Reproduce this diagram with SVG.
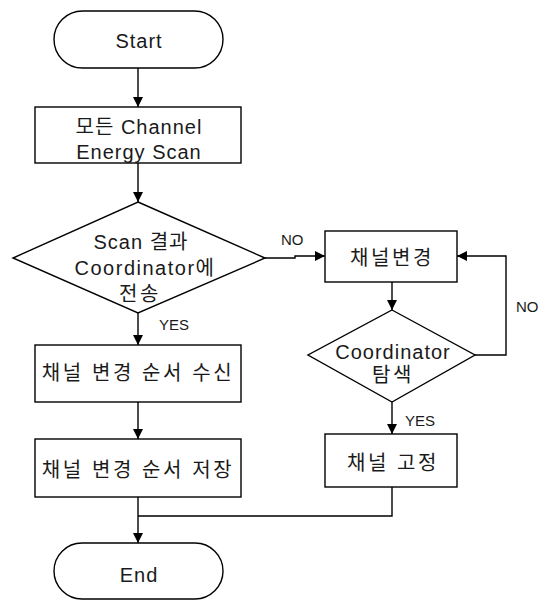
<svg xmlns="http://www.w3.org/2000/svg" width="545" height="601" viewBox="0 0 545 601">
<defs>
<style>
.s{fill:#fff;stroke:#000;stroke-width:1.4}
.c{fill:none;stroke:#000;stroke-width:1.4}
text{font-family:"Liberation Sans","Noto Sans CJK KR",sans-serif;font-size:20px;fill:#1a1a1a;text-anchor:middle;dominant-baseline:central;letter-spacing:1px}
.k{letter-spacing:2.6px}
.l{font-size:15px;text-anchor:start;letter-spacing:0}
</style>
<marker id="a" viewBox="0 0 10 10" refX="10" refY="5" markerWidth="10" markerHeight="10" markerUnits="userSpaceOnUse" orient="auto">
<path d="M0,0 L10,5 L0,10 Z" fill="#000"/>
</marker>
</defs>
<rect width="545" height="601" fill="#fff"/>
<g id="connectors">
<line class="c" x1="138" y1="68" x2="138" y2="107" marker-end="url(#a)"/>
<line class="c" x1="138" y1="163" x2="138" y2="202" marker-end="url(#a)"/>
<line class="c" x1="138" y1="313" x2="138" y2="345" marker-end="url(#a)"/>
<line class="c" x1="138" y1="402" x2="138" y2="439" marker-end="url(#a)"/>
<line class="c" x1="138" y1="497" x2="138" y2="543" marker-end="url(#a)"/>
<polyline class="c" points="265,258 295,258 295,256 325,256" marker-end="url(#a)"/>
<line class="c" x1="392" y1="282" x2="392" y2="310" marker-end="url(#a)"/>
<polyline class="c" points="475,355 506,355 506,256 457,256" marker-end="url(#a)"/>
<line class="c" x1="392" y1="402" x2="392" y2="434" marker-end="url(#a)"/>
<polyline class="c" points="392,487 392,516 138,516"/>
<text class="l" x="159" y="324">YES</text>
<text class="l" x="281" y="239">NO</text>
<text class="l" x="516" y="306">NO</text>
<text class="l" x="405" y="420">YES</text>
</g>
<g id="start">
<rect class="s" x="54" y="11" width="169" height="57" rx="28.5"/>
<text x="139" y="41">Start</text>
</g>
<g id="scan">
<rect class="s" x="35" y="107" width="206" height="56"/>
<text x="139" y="127">모든 Channel</text>
<text x="139" y="152">Energy Scan</text>
</g>
<g id="send">
<polygon class="s" points="138,202 265,258 138,313 13,258"/>
<text x="141" y="242">Scan 결과</text>
<text x="145" y="268" style="letter-spacing:1.5px">Coordinator에</text>
<text class="k" x="140" y="294">전송</text>
</g>
<g id="recv">
<rect class="s" x="35" y="345" width="206" height="57"/>
<text class="k" x="138" y="373">채널 변경 순서 수신</text>
</g>
<g id="store">
<rect class="s" x="35" y="439" width="206" height="58"/>
<text class="k" x="138" y="470">채널 변경 순서 저장</text>
</g>
<g id="end">
<rect class="s" x="54" y="543" width="169" height="56" rx="28"/>
<text x="139" y="575">End</text>
</g>
<g id="change">
<rect class="s" x="325" y="231" width="132" height="51"/>
<text class="k" x="392" y="258">채널변경</text>
</g>
<g id="search">
<polygon class="s" points="392,310 475,355 392,402 308,355"/>
<text x="393" y="352">Coordinator</text>
<text class="k" x="393" y="375">탐색</text>
</g>
<g id="fix">
<rect class="s" x="325" y="434" width="132" height="53"/>
<text class="k" x="393" y="463">채널 고정</text>
</g>
</svg>
